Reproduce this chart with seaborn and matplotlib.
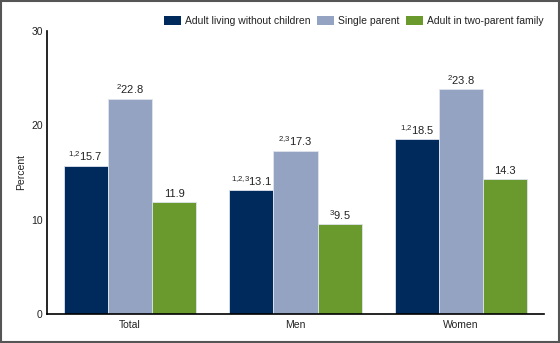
import matplotlib
matplotlib.use("Agg")
import matplotlib.pyplot as plt
import seaborn as sns
import pandas as pd

categories = ["Total", "Men", "Women"]
series = ["Adult living without children", "Single parent", "Adult in two-parent family"]
no_children = [15.7, 13.1, 18.5]
single_parent = [22.8, 17.3, 23.8]
two_parent = [11.9, 9.5, 14.3]
sups_no_children = ["1,2", "1,2,3", "1,2"]
sups_single = ["2", "2,3", "2"]
sups_two = ["", "3", ""]
yticks = [0, 10, 20, 30]

colors = ["#002A5C", "#95A3C3", "#6A9A2E"]

rows = []
for s, vals in zip(series, [no_children, single_parent, two_parent]):
    for c, v in zip(categories, vals):
        rows.append({"cat": c, "series": s, "value": v})
df = pd.DataFrame(rows)

sns.set_style("white")
plt.rcParams["font.family"] = ["Liberation Sans", "DejaVu Sans"]
plt.rcParams["mathtext.fontset"] = "custom"
plt.rcParams["mathtext.rm"] = "Liberation Sans"
plt.rcParams["mathtext.it"] = "Liberation Sans"

fig = plt.figure(figsize=(5.6, 3.43), dpi=100)
ax = fig.add_axes([47/560, 1 - 314/343, (544 - 47)/560, (314 - 31)/343])

sns.barplot(data=df, x="cat", y="value", hue="series", order=categories,
            hue_order=series, palette=colors, width=0.8, ax=ax,
            edgecolor="#dfe4ee", linewidth=0.6, saturation=1)

ax.set_xlim(-0.5, 2.5)
ax.set_ylim(0, 30)
ax.set_yticks(yticks)
ax.tick_params(axis="y", direction="in", length=5.5, width=1.2, color="black",
               labelsize=7.5, pad=3, labelcolor="#222222")
ax.tick_params(axis="x", length=0, labelsize=7.5, pad=4, labelcolor="#222222")
ax.set_xlabel("")
ax.set_ylabel("Percent", fontsize=7.5, labelpad=4, color="#222222")
for sp in ["top", "right"]:
    ax.spines[sp].set_visible(False)
for sp in ["left", "bottom"]:
    ax.spines[sp].set_color("black")
    ax.spines[sp].set_linewidth(1.2)

all_sups = [sups_no_children, sups_single, sups_two]
all_vals = [no_children, single_parent, two_parent]
for cont, sups, vals in zip(ax.containers, all_sups, all_vals):
    labels = []
    for s, v in zip(sups, vals):
        if s:
            s2 = s.replace(",", "{,}")
            labels.append(r"$^{\mathregular{%s}}$%.1f" % (s2, v))
        else:
            labels.append("%.1f" % v)
    ax.bar_label(cont, labels=labels, padding=2, fontsize=8, color="#222222")

leg = ax.legend(loc="lower right", bbox_to_anchor=(1.0, 1.018), ncol=3, frameon=False,
                fontsize=7.5, handlelength=1.6, handleheight=0.9, columnspacing=0.6,
                handletextpad=0.45, borderaxespad=0, borderpad=0)
for h in leg.legend_handles:
    h.set_edgecolor("none")
for t in leg.get_texts():
    t.set_color("#222222")

fig.patches.append(plt.Rectangle((0.001, 0.002), 0.997, 0.995, transform=fig.transFigure,
                                 fill=False, edgecolor="#555555", linewidth=1.5))

fig.savefig("out.png", dpi=100)
